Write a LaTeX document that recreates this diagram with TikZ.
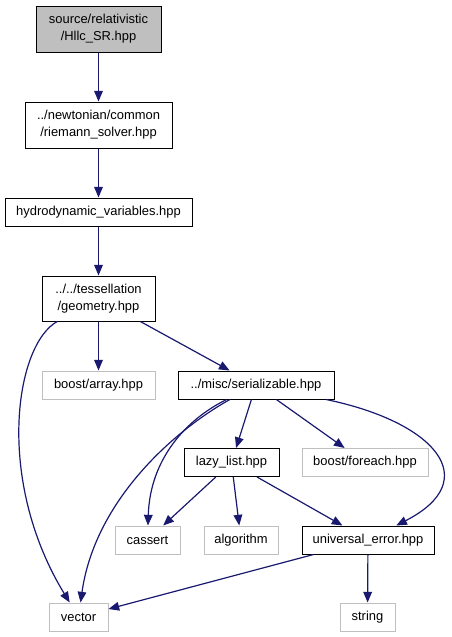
\documentclass[tikz,border=0pt]{standalone}
\usepackage{fontspec}
\setmainfont{Liberation Sans}
\usetikzlibrary{arrows.meta}
\definecolor{edgeblue}{HTML}{191970}
\definecolor{boxgray}{HTML}{BFBFBF}
\begin{document}
\begin{tikzpicture}[x=0.75pt,y=-0.75pt,
  every node/.style={font=\fontsize{9.7pt}{12.75pt}\selectfont, inner sep=0pt, align=center, rectangle, minimum height=21pt},
  filebox/.style={draw=black, line width=0.75pt},
  extbox/.style={draw=boxgray, line width=0.75pt},
  rootbox/.style={draw=black, fill=boxgray, line width=0.75pt},
  dep/.style={draw=edgeblue, line width=0.9pt, -{Triangle[length=8pt,width=6.5pt]}, edgeblue}]
\useasboundingbox (0,0) rectangle (451,637);
\node[rootbox, minimum width=93.75pt, minimum height=34.5pt] (hllc) at (98.5,29) {source/relativistic\\/Hllc\_SR.hpp};
\node[filebox, minimum width=110.25pt, minimum height=34.5pt] (riem) at (98.5,125) {../newtonian/common\\/riemann\_solver.hpp};
\node[filebox, minimum width=140.25pt] (hydro) at (98.5,212) {hydrodynamic\_variables.hpp};
\node[filebox, minimum width=84.75pt, minimum height=33.75pt] (geo) at (98.5,298.5) {../../tessellation\\/geometry.hpp};
\node[extbox, minimum width=84.75pt] (arr) at (98.5,385) {boost/array.hpp};
\node[filebox, minimum width=117pt] (ser) at (256,385) {../misc/serializable.hpp};
\node[filebox, minimum width=71.25pt] (lazy) at (231.5,462.5) {lazy\_list.hpp};
\node[extbox, minimum width=94.5pt] (fore) at (365,462.5) {boost/foreach.hpp};
\node[extbox, minimum width=48.75pt] (cass) at (147.5,540) {cassert};
\node[extbox, minimum width=55.5pt] (algo) at (241,540) {algorithm};
\node[filebox, minimum width=99pt] (univ) at (368,540) {universal\_error.hpp};
\node[extbox, minimum width=44.25pt] (vec) at (78.5,617) {vector};
\node[extbox, minimum width=41.25pt] (str) at (367.5,617) {string};

\draw[dep] (hllc) -- (riem);
\draw[dep] (riem) -- (hydro);
\draw[dep] (hydro) -- (geo);
\draw[dep] (geo) -- (arr);
\draw[dep] (geo) -- (ser);
\draw[dep] (geo) .. controls (15,345) and (-5,480) .. (vec);
\draw[dep] (ser) .. controls (175,430) and (95,500) .. (vec);
\draw[dep] (ser) .. controls (185,420) and (150,460) .. (cass);
\draw[dep] (ser) -- (lazy);
\draw[dep] (ser) -- (fore);
\draw[dep] (ser) .. controls (435,422) and (485,480) .. (univ);
\draw[dep] (lazy) -- (cass);
\draw[dep] (lazy) -- (algo);
\draw[dep] (lazy) -- (univ);
\draw[dep] (univ) -- (vec);
\draw[dep] (univ) -- (str);
\end{tikzpicture}
\end{document}
